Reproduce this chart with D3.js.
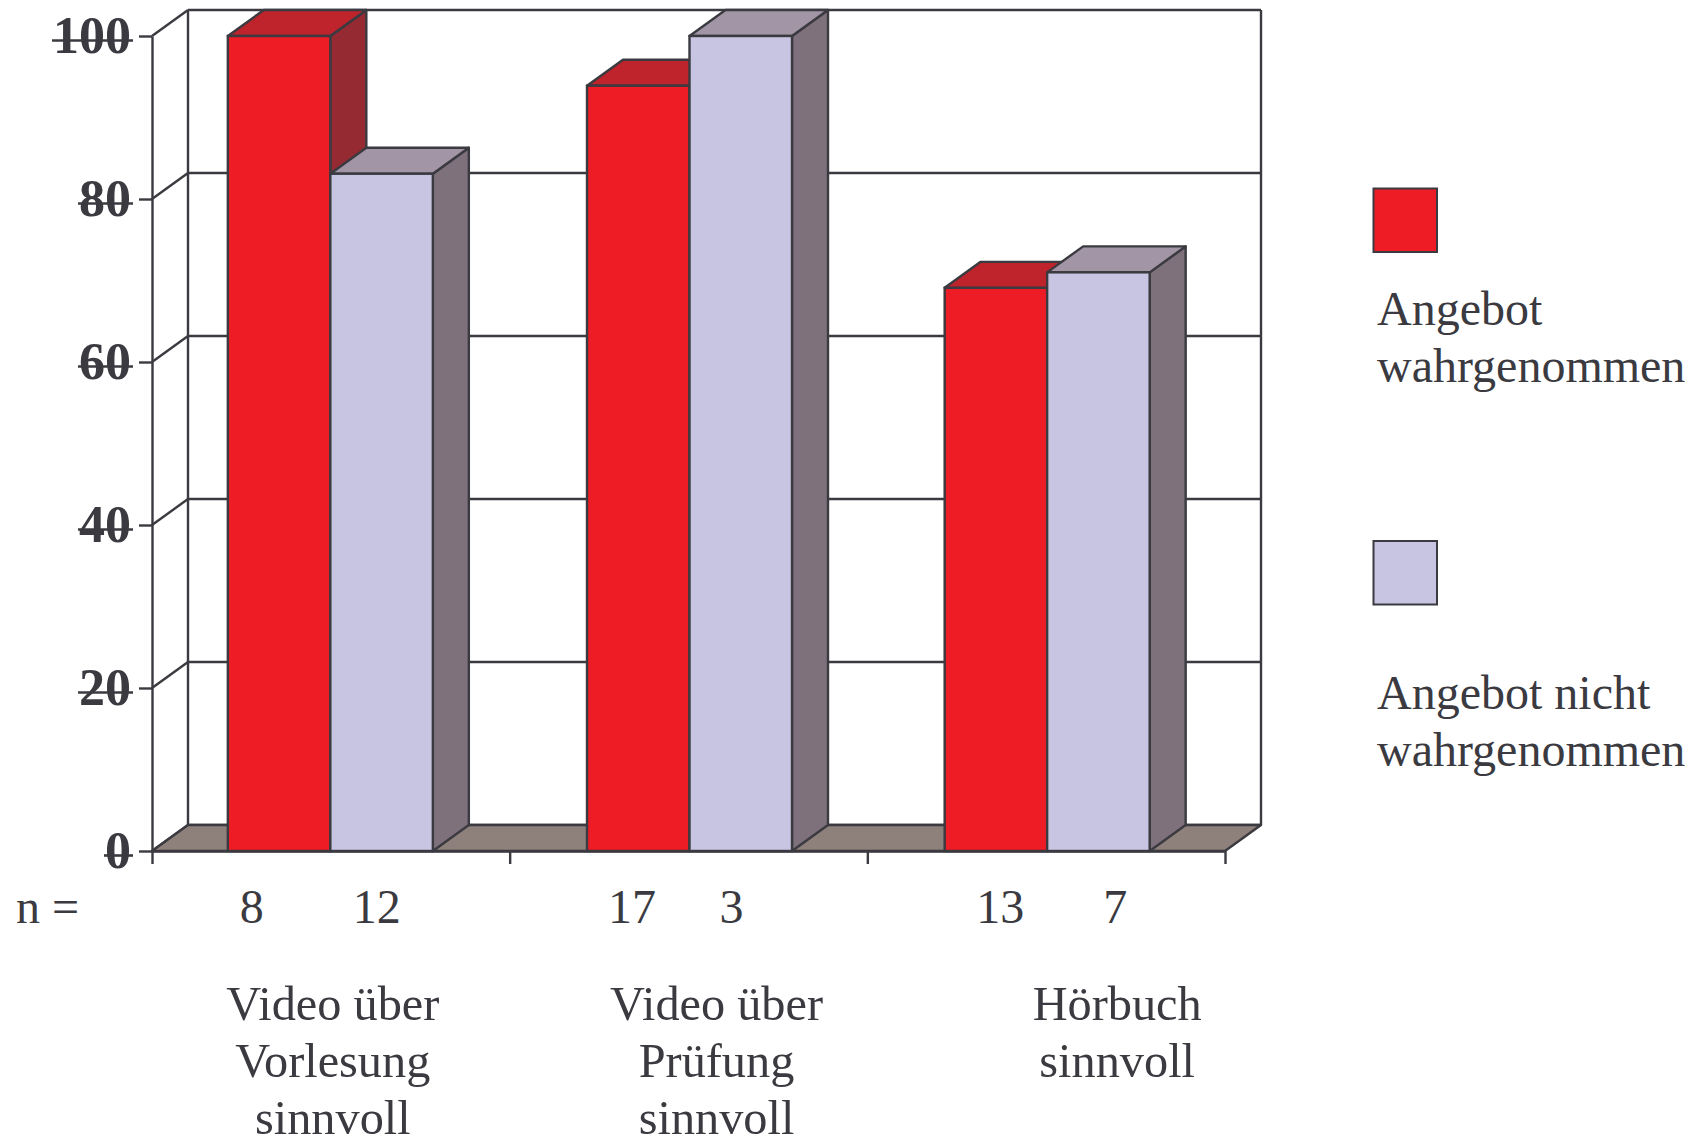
<!DOCTYPE html>
<html><head><meta charset="utf-8">
<script src="https://cdnjs.cloudflare.com/ajax/libs/d3/7.8.5/d3.min.js"></script>
<style>html,body{margin:0;padding:0;background:#fff}svg{display:block}text{font-family:"Liberation Serif",serif;fill:#3a3a40}</style>
</head><body><svg id="c" width="1697" height="1139"></svg>
<script>
const categories = [["Video über","Vorlesung","sinnvoll"],["Video über","Prüfung","sinnvoll"],["Hörbuch","sinnvoll"]];
const seriesNames = [["Angebot","wahrgenommen"],["Angebot nicht","wahrgenommen"]];
const seen = [100, 93.9, 69.1];
const notSeen = [83.1, 100, 71];
const nSeen = ["8","17","13"];
const nNotSeen = ["12","3","7"];
const yTicks = [0,20,40,60,80,100];

const ink="#3a3a40";
const palette=[{front:"#ee1c25",top:"#bf232c",side:"#952a32"},{front:"#c7c5e2",top:"#a296a6",side:"#7e717b"}];
const floorCol="#8e807b";
const dx=36,dy=-26;
const sw=2.4;
const svg=d3.select("#c");
const y=d3.scaleLinear().domain([0,100]).range([851,36]);
const xAxisL=152,xAxisR=1225;
const idx=d3.range(categories.length);
const x=d3.scaleBand().domain(idx).range([xAxisL,xAxisR]);
const groupNudge=[-0.5,1,1];
const barW=102.5;
const x1=d3.scaleBand().domain([0,1]).range([-barW,barW]);
const lineAttrs=s=>s.attr("stroke",ink).attr("stroke-width",sw).attr("fill","none");

// back wall & grid
const g=svg.append("g");
yTicks.forEach(t=>{
  g.append("line").attr("x1",xAxisL+dx).attr("x2",xAxisR+dx).attr("y1",y(t)+dy).attr("y2",y(t)+dy).call(lineAttrs);
  g.append("line").attr("x1",xAxisL).attr("x2",xAxisL+dx).attr("y1",y(t)).attr("y2",y(t)+dy).call(lineAttrs);
});
g.append("line").attr("x1",xAxisL+dx).attr("x2",xAxisL+dx).attr("y1",y(0)+dy).attr("y2",y(100)+dy).call(lineAttrs);
g.append("line").attr("x1",xAxisR+dx).attr("x2",xAxisR+dx).attr("y1",y(0)+dy).attr("y2",y(100)+dy).call(lineAttrs);
// floor
g.append("polygon").attr("points",[[xAxisL,y(0)],[xAxisL+dx,y(0)+dy],[xAxisR+dx,y(0)+dy],[xAxisR,y(0)]].join(" ")).attr("fill",floorCol).attr("stroke",ink).attr("stroke-width",sw).attr("stroke-linejoin","round");

// bars
const series=[seen,notSeen];
idx.forEach(i=>{
  series.forEach((vals,s)=>{
    const c=palette[s],l=x(i)+x.bandwidth()/2+groupNudge[i]+x1(s),r=l+barW,t=y(vals[i]),b=y(0);
    const bar=svg.append("g");
    const st=e=>e.attr("stroke",ink).attr("stroke-width",sw).attr("stroke-linejoin","round");
    bar.append("polygon").attr("points",[[r,t],[r+dx,t+dy],[r+dx,b+dy],[r,b]].join(" ")).attr("fill",c.side).call(st);
    bar.append("polygon").attr("points",[[l,t],[l+dx,t+dy],[r+dx,t+dy],[r,t]].join(" ")).attr("fill",c.top).call(st);
    bar.append("rect").attr("x",l).attr("y",t).attr("width",barW).attr("height",b-t).attr("fill",c.front).attr("stroke",ink).attr("stroke-width",sw);
  });
});

// axes
const yAxis=svg.append("g").attr("transform",`translate(${xAxisL},0)`).call(d3.axisLeft(y).tickValues(yTicks).tickSize(13).tickPadding(8).tickSizeOuter(0));
yAxis.select(".domain").attr("stroke",ink).attr("stroke-width",sw);
yAxis.selectAll(".tick line").attr("stroke",ink).attr("stroke-width",sw);
yAxis.selectAll(".tick text").attr("font-family",null).attr("font-size",52).attr("font-weight",700).attr("dy","0.31em").attr("text-anchor","end");
yAxis.selectAll(".tick").each(function(){
  const t=d3.select(this),bb=t.select("text").node().getBBox();
  t.append("line").attr("x1",bb.x-1).attr("x2",-19).attr("y1",4).attr("y2",4).attr("stroke",ink).attr("stroke-width",2.6);
});
const xAxis=svg.append("g").attr("transform",`translate(0,${y(0)})`).call(d3.axisBottom(d3.scaleLinear().domain([0,3]).range([xAxisL,xAxisR])).ticks(3).tickSize(13).tickFormat("").tickSizeOuter(0));
xAxis.select(".domain").attr("stroke",ink).attr("stroke-width",sw);
xAxis.selectAll(".tick line").attr("stroke",ink).attr("stroke-width",sw);

// n row
const fs=48;
const txt=(t,px,py,a="start",size=fs)=>svg.append("text").attr("x",px).attr("y",py).attr("font-size",size).attr("text-anchor",a).text(t);
txt("n =",16,923);
const nOff=[[-79,46],[-56.5,43],[-46,69]];
idx.forEach(i=>{
  const c=x(i)+x.bandwidth()/2;
  txt(nSeen[i],c+nOff[i][0],923,"middle");
  txt(nNotSeen[i],c+nOff[i][1],923,"middle");
  const cx=c+[2,28,71][i];
  categories[i].forEach((ln,k)=>txt(ln,cx,1019.5+k*57.4,"middle",48.3));
});

// legend
const legY=[188.5,541],textY=[325,709];
seriesNames.forEach((nm,s)=>{
  svg.append("rect").attr("x",1373.5).attr("y",legY[s]).attr("width",63.5).attr("height",63.5).attr("fill",palette[s].front).attr("stroke",ink).attr("stroke-width",2);
  nm.forEach((ln,k)=>txt(ln,1377,textY[s]+k*57.3,"start"));
});
</script></body></html>
